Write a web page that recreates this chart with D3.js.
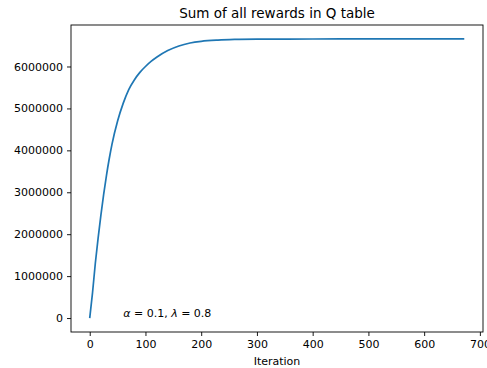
<!DOCTYPE html>
<html>
<head>
<meta charset="utf-8">
<script src="https://cdn.jsdelivr.net/npm/d3@7"></script>
<style>
  body { margin: 0; background: #fff; }
  svg text { font-family: "DejaVu Sans", sans-serif; fill: #000; }
</style>
</head>
<body>
<svg id="chart" width="487" height="368"></svg>
<script>
// values
const iterations = [0, 5, 10, 15, 20, 25, 30, 35, 40, 50, 60, 70, 80, 90, 100, 110, 120, 140, 160, 180, 200, 230, 260, 300, 400, 500, 672];
const rewardSums = [0, 600000, 1300000, 1900000, 2450000, 2950000, 3400000, 3800000, 4150000, 4700000, 5120000, 5450000, 5680000, 5860000, 6000000, 6120000, 6220000, 6380000, 6490000, 6560000, 6600000, 6630000, 6645000, 6652000, 6656000, 6657000, 6657000];
const xTicks = [0, 100, 200, 300, 400, 500, 600, 700];
const yTicks = [0, 1000000, 2000000, 3000000, 4000000, 5000000, 6000000];
const title = 'Sum of all rewards in Q table';
const xLabel = 'Iteration';

const width = 487;
const height = 368;
const margin = { top: 25, right: 4, bottom: 36, left: 71 };

const svg = d3.select('#chart');

// matplotlib style 5% padding around the data
const xExt = d3.extent(iterations);
const yExt = d3.extent(rewardSums);
const xPad = (xExt[1] - xExt[0]) * 0.05;
const yPad = (yExt[1] - yExt[0]) * 0.05;

const x = d3.scaleLinear()
  .domain([xExt[0] - xPad, xExt[1] + xPad])
  .range([margin.left, width - margin.right]);

const y = d3.scaleLinear()
  .domain([yExt[0] - yPad, yExt[1] + yPad])
  .range([height - margin.bottom, margin.top]);

const xAxis = svg.append('g')
  .attr('transform', `translate(0,${height - margin.bottom})`)
  .call(d3.axisBottom(x).tickValues(xTicks).tickSize(4).tickPadding(4).tickFormat(d3.format('d')));

const yAxis = svg.append('g')
  .attr('transform', `translate(${margin.left},0)`)
  .call(d3.axisLeft(y).tickValues(yTicks).tickSize(4).tickPadding(4).tickFormat(d3.format('d')));

[xAxis, yAxis].forEach(g => {
  g.select('.domain').remove();
  g.selectAll('.tick line').attr('stroke', '#000').attr('stroke-width', 0.9);
  g.selectAll('.tick text').style('font-size', '11px').attr('fill', '#262626');
});

// frame
svg.append('rect')
  .attr('x', margin.left)
  .attr('y', margin.top)
  .attr('width', width - margin.left - margin.right)
  .attr('height', height - margin.top - margin.bottom)
  .attr('fill', 'none')
  .attr('stroke', '#000')
  .attr('stroke-width', 0.9);

const points = iterations.map((d, i) => [d, rewardSums[i]]);

const line = d3.line()
  .x(d => x(d[0]))
  .y(d => y(d[1]))
  .curve(d3.curveMonotoneX);

svg.append('path')
  .datum(points)
  .attr('d', line)
  .attr('fill', 'none')
  .attr('stroke', '#1f77b4')
  .attr('stroke-width', 1.7);

// title and axis label
svg.append('text')
  .attr('x', (margin.left + width - margin.right) / 2)
  .attr('y', 18)
  .attr('text-anchor', 'middle')
  .style('font-size', '13.5px')
  .text(title);

svg.append('text')
  .attr('x', (margin.left + width - margin.right) / 2)
  .attr('y', 365)
  .attr('text-anchor', 'middle')
  .style('font-size', '11px')
  .text(xLabel);

// annotation: alpha and lambda
const note = svg.append('text')
  .attr('x', x(60))
  .attr('y', y(0) - 1)
  .style('font-size', '11px');
note.append('tspan').style('font-style', 'italic').text('α');
note.append('tspan').text(' = 0.1,  ');
note.append('tspan').style('font-style', 'italic').text('λ');
note.append('tspan').text(' = 0.8');
</script>
</body>
</html>
